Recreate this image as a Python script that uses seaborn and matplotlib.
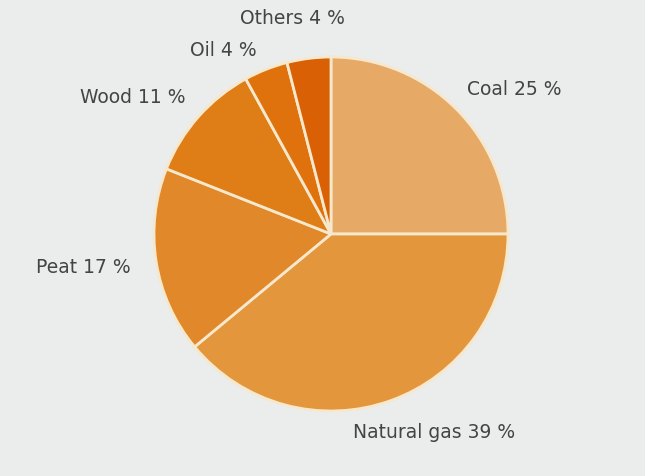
import matplotlib
matplotlib.use("Agg")
import matplotlib.pyplot as plt
import seaborn as sns

categories = ["Coal", "Natural gas", "Peat", "Wood", "Oil", "Others"]
shares = [25, 39, 17, 11, 4, 4]
labels = ["Coal 25 %", "Natural gas 39 %", "Peat 17 %", "Wood 11 %", "Oil 4 %", "Others 4 %"]
colors = ["#E6AA66", "#E4963D", "#E0882A", "#DF7D16", "#DF720C", "#DA6005"]
label_pos = [(0.768, 0.814), (0.124, -1.124), (-1.667, -0.192),
             (-1.418, 0.774), (-0.797, 1.034), (-0.514, 1.215)]

sns.set_theme(style="white")
plt.rcParams['font.family'] = ['DejaVu Sans']

W, H = 645, 476
fig = plt.figure(figsize=(W / 100, H / 100), dpi=100, facecolor="#EBECEC")
cx, cy, r = 331, 234, 177
ax = fig.add_axes([(cx - r) / W, (H - cy - r) / H, 2 * r / W, 2 * r / H])
ax.set_facecolor("#EBECEC")
ax.pie(shares, colors=colors, startangle=90, counterclock=False, radius=1,
       wedgeprops=dict(edgecolor="#F6E8CC", linewidth=2))
ax.set_xlim(-1, 1)
ax.set_ylim(-1, 1)
ax.set_aspect("equal")
ax.axis("off")
for lab, (x, y) in zip(labels, label_pos):
    ax.text(x, y, lab, ha="left", va="center", fontsize=13.5, color="#444444", clip_on=False)

fig.savefig("out.png", dpi=100, facecolor=fig.get_facecolor())
